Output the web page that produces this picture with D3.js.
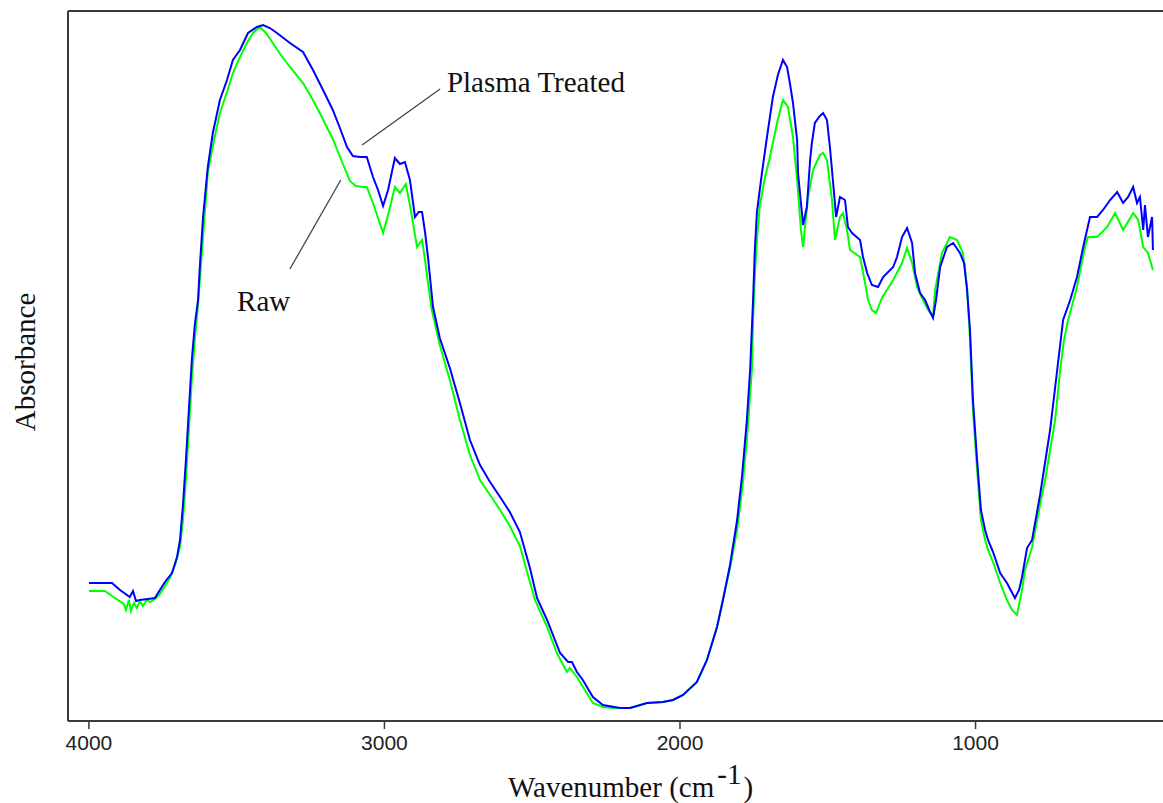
<!DOCTYPE html>
<html>
<head>
<meta charset="utf-8">
<script src="https://cdn.jsdelivr.net/npm/d3@7"></script>
<style>
  html, body { margin: 0; padding: 0; background: #fff; }
  svg { display: block; }
</style>
</head>
<body>
<div id="chart"></div>
<script>
// wavenumber (cm-1) and absorbance
const plasmaWn = [3998,3961,3920,3893,3860,3849,3839,3826,3799,3775,3758,3741,3717,3700,3690,3680,3670,3660,3650,3640,3629,3623,3612,3596,3579,3555,3531,3511,3487,3460,3430,3409,3386,3362,3318,3274,3240,3206,3173,3149,3125,3105,3081,3058,3037,3020,3003,2986,2963,2946,2929,2912,2895,2882,2871,2861,2851,2834,2811,2777,2743,2709,2675,2641,2607,2574,2540,2506,2482,2448,2404,2377,2364,2347,2327,2293,2259,2201,2167,2110,2056,2022,1988,1941,1907,1873,1853,1829,1805,1788,1772,1761,1751,1745,1738,1721,1704,1684,1667,1650,1636,1626,1616,1602,1599,1585,1582,1569,1558,1552,1542,1525,1514,1501,1491,1481,1470,1457,1440,1430,1416,1389,1379,1365,1349,1328,1311,1277,1264,1247,1230,1213,1203,1186,1169,1152,1142,1132,1118,1095,1074,1051,1037,1027,1017,1007,993,980,966,956,939,915,892,865,851,841,831,824,807,780,746,722,702,678,655,634,611,587,567,543,519,499,482,465,452,442,431,425,415,401,398];
const plasmaAbs = [.138,.138,.138,.131,.124,.130,.120,.121,.122,.123,.131,.139,.148,.164,.181,.216,.261,.311,.361,.396,.421,.454,.504,.554,.588,.621,.641,.661,.671,.688,.694,.696,.693,.688,.678,.669,.651,.631,.611,.593,.574,.565,.564,.564,.544,.531,.515,.531,.563,.557,.559,.541,.504,.509,.509,.489,.464,.414,.383,.353,.318,.281,.256,.239,.224,.209,.189,.153,.123,.101,.068,.059,.059,.049,.041,.024,.016,.013,.013,.018,.019,.021,.026,.039,.061,.094,.121,.156,.201,.246,.301,.351,.421,.471,.509,.548,.584,.624,.646,.661,.654,.637,.618,.581,.548,.506,.496,.514,.561,.578,.598,.605,.608,.601,.574,.541,.504,.524,.521,.494,.488,.481,.464,.448,.436,.434,.444,.454,.464,.484,.493,.478,.448,.428,.421,.409,.403,.421,.454,.474,.478,.468,.458,.431,.391,.321,.261,.211,.191,.181,.169,.148,.138,.123,.131,.144,.161,.173,.181,.226,.291,.351,.401,.421,.444,.474,.504,.504,.511,.521,.529,.518,.524,.534,.518,.524,.491,.516,.484,.504,.471];

const rawWn = [3998,3944,3920,3900,3880,3873,3863,3856,3846,3836,3826,3816,3802,3792,3775,3758,3741,3724,3707,3690,3680,3670,3660,3650,3640,3629,3623,3609,3596,3575,3555,3531,3511,3487,3464,3443,3420,3399,3376,3349,3318,3274,3244,3217,3173,3139,3115,3095,3071,3058,3037,3020,3003,2986,2963,2946,2926,2909,2888,2871,2861,2851,2838,2811,2777,2743,2709,2675,2641,2607,2574,2540,2506,2489,2448,2415,2381,2371,2347,2320,2293,2259,2225,2167,2110,2056,2022,1988,1941,1907,1873,1853,1829,1805,1788,1772,1755,1751,1745,1738,1728,1711,1694,1670,1650,1633,1616,1602,1589,1582,1565,1548,1525,1514,1501,1484,1474,1457,1447,1433,1423,1389,1372,1362,1349,1335,1315,1277,1247,1230,1213,1196,1176,1159,1142,1135,1112,1085,1061,1041,1027,1017,1007,993,980,966,956,939,915,892,875,858,848,841,831,807,780,763,746,729,712,699,685,655,628,618,587,553,526,499,465,448,431,415,401,398];
const rawAbs = [.130,.130,.125,.121,.117,.111,.121,.110,.118,.113,.120,.115,.121,.119,.122,.127,.135,.143,.156,.174,.201,.241,.291,.341,.381,.416,.441,.496,.548,.581,.608,.629,.648,.664,.678,.688,.694,.688,.678,.666,.654,.638,.623,.608,.582,.557,.540,.535,.534,.534,.518,.503,.488,.506,.534,.528,.537,.511,.474,.481,.461,.438,.411,.376,.341,.301,.266,.241,.226,.211,.195,.175,.139,.121,.094,.068,.049,.053,.044,.031,.018,.014,.013,.013,.018,.019,.021,.026,.039,.061,.094,.121,.153,.191,.231,.281,.351,.401,.446,.481,.516,.543,.564,.598,.621,.614,.584,.541,.491,.474,.524,.551,.566,.568,.561,.521,.481,.504,.508,.491,.471,.464,.438,.421,.411,.408,.423,.441,.458,.473,.458,.434,.421,.411,.405,.431,.468,.484,.481,.468,.434,.381,.311,.251,.201,.181,.171,.159,.138,.121,.111,.106,.121,.131,.151,.174,.216,.241,.271,.301,.351,.381,.401,.434,.474,.484,.484,.494,.508,.491,.508,.501,.474,.468,.454,.451];

const xTicks = [4000, 3000, 2000, 1000];

const labels = [
  { text: "Plasma Treated", wn: 2787, abs: .629, fromWn: 3074, fromAbs: .576, toWn: 2810, toAbs: .632 },
  { text: "Raw", wn: 3497, abs: .410, fromWn: 3318, fromAbs: .452, toWn: 3146, toAbs: .541 }
];

const width = 1163, height = 803;
const margin = { left: 68, top: 11, bottom: 82 };
const plotBottom = height - margin.bottom;

const svg = d3.select("#chart").append("svg")
    .attr("width", width)
    .attr("height", height);

const x = d3.scaleLinear().domain([4069, 364]).range([margin.left, width]);
const y = d3.scaleLinear().domain([0, 0.71]).range([plotBottom, margin.top]);

const frameColor = "#3a3a3a";

// frame: top, left, bottom
svg.append("line").attr("x1", margin.left).attr("x2", width)
    .attr("y1", margin.top).attr("y2", margin.top)
    .attr("stroke", frameColor).attr("stroke-width", 2);
svg.append("line").attr("x1", margin.left).attr("x2", margin.left)
    .attr("y1", margin.top).attr("y2", plotBottom)
    .attr("stroke", frameColor).attr("stroke-width", 2);

const xAxis = d3.axisBottom(x)
    .tickValues(xTicks)
    .tickFormat(d3.format("d"))
    .tickSize(8).tickSizeOuter(0).tickPadding(6);
const gx = svg.append("g")
    .attr("transform", "translate(0," + plotBottom + ")")
    .call(xAxis);
gx.select(".domain").attr("stroke", frameColor).attr("stroke-width", 2)
    .attr("d", "M" + margin.left + ",0H" + width);
gx.selectAll(".tick line").attr("stroke", frameColor).attr("stroke-width", 1.5);
gx.selectAll(".tick text")
    .style("font-family", "'Liberation Sans', Arial, sans-serif")
    .style("font-size", "21px")
    .attr("fill", "#222");

const line = d3.line()
    .x(d => x(d[0]))
    .y(d => y(d[1]));

const rawData = rawWn.map((w, i) => [w, rawAbs[i]]);
const plasmaData = plasmaWn.map((w, i) => [w, plasmaAbs[i]]);

svg.append("path")
    .datum(rawData)
    .attr("fill", "none")
    .attr("stroke", "#00ff00")
    .attr("stroke-width", 2)
    .attr("d", line);

svg.append("path")
    .datum(plasmaData)
    .attr("fill", "none")
    .attr("stroke", "#0000ff")
    .attr("stroke-width", 2)
    .attr("d", line);

// annotation leaders and labels
labels.forEach(l => {
    svg.append("line")
        .attr("x1", x(l.fromWn)).attr("y1", y(l.fromAbs))
        .attr("x2", x(l.toWn)).attr("y2", y(l.toAbs))
        .attr("stroke", "#444")
        .attr("stroke-width", 1.3);
    svg.append("text")
        .attr("x", x(l.wn))
        .attr("y", y(l.abs))
        .style("font-family", "'Liberation Serif', 'Times New Roman', serif")
        .style("font-size", "29px")
        .attr("fill", "#111")
        .text(l.text);
});

// axis titles
const title = svg.append("text")
    .attr("x", 508)
    .attr("y", 797)
    .style("font-family", "'Liberation Serif', 'Times New Roman', serif")
    .style("font-size", "29px")
    .attr("fill", "#111");
title.append("tspan").text("Wavenumber (cm");
title.append("tspan").attr("dy", -13).attr("dx", 3).text("-1");
title.append("tspan").attr("dy", 13).attr("dx", 2).text(")");

svg.append("text")
    .attr("transform", "translate(35,362) rotate(-90)")
    .attr("text-anchor", "middle")
    .style("font-family", "'Liberation Serif', 'Times New Roman', serif")
    .style("font-size", "29px")
    .attr("fill", "#111")
    .text("Absorbance");
</script>
</body>
</html>
